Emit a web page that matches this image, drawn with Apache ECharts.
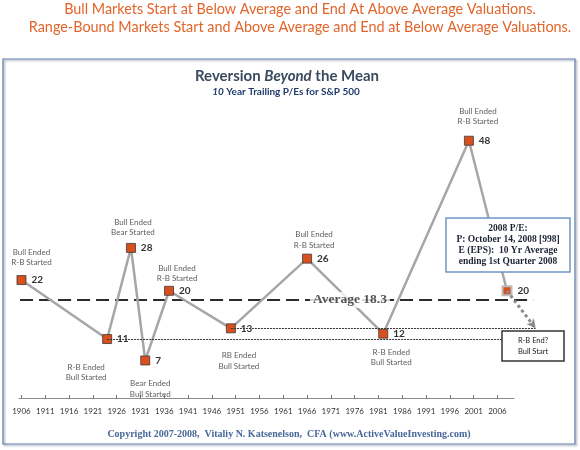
<!DOCTYPE html>
<html>
<head>
<meta charset="utf-8">
<script src="https://cdn.jsdelivr.net/npm/echarts@6/dist/echarts.min.js"></script>
<style>
html,body{margin:0;padding:0;background:#fff;}
#chart{width:580px;height:450px;}
</style>
</head>
<body>
<div id="chart"></div>
<script>
// ---- data ----
const years = [1906, 1924, 1929, 1932, 1937, 1950, 1966, 1982, 2000, 2008];
const peValues = [22, 11, 28, 7, 20, 13, 26, 12, 48, 20];
const notes = ['Bull Ended\nR-B Started', 'R-B Ended\nBull Started', 'Bull Ended\nBear Started',
  'Bear Ended\nBull Started', 'Bull Ended\nR-B Started', 'RB Ended\nBull Started',
  'Bull Ended\nR-B Started', 'R-B Ended\nBull Started', 'Bull Ended\nR-B Started', ''];
const tickLabels = ['1906','1911','1916','1921','1926','1931','1936','1941','1946','1951',
  '1956','1961','1966','1971','1976','1981','1986','1991','1996','2001','2006'];
const firstYear = 1906;
const lastYear = 2009;
const averagePE = 18.3;
const averageSpan = [1905.7, 2013.5];
const refLevels = [13, 11];          // valuation levels carried forward
const refStartYears = [1950, 1924];
const refEndYears = [2014, 2007];
const projectionFrom = [2008, 20];
const projectionTo = [2014, 13];
const headline = ['Bull Markets Start at Below Average and End At Above Average Valuations.',
  'Range-Bound Markets Start and Above Average and End at Below Average Valuations.'];
const peBoxLines = ['2008 P/E:', 'P: October 14, 2008 [998]', 'E (EPS):  10 Yr Average', 'ending 1st Quarter 2008'];
const endBoxLines = ['R-B End?', 'Bull Start'];
const copyright = 'Copyright 2007-2008,  Vitaliy N. Katsenelson,  CFA (www.ActiveValueInvesting.com)';

// ---- build ----
const categories = [];
for (let y = firstYear; y <= lastYear; y++) categories.push(String(y));
const nCat = categories.length;
const bandW = 4.76;
const gridLeft = 19.1;
const gridTop = 130;
const gridBottom = 52;
const overlayMax = 2020.5;

const noteLayout = [['top',12,10],['bottom',23,-21],['top',10,2],['bottom',18,5],['top',7,8],
  ['bottom',22,8],['top',8,7],['bottom',13,8],['top',14,9],['top',0,0]];

const isTick = function (idx, val) { return tickLabels.indexOf(val) >= 0; };

const mainData = years.map((y, i) => {
  const last = i === years.length - 1;
  return {
    value: [y - firstYear, peValues[i]],
    itemStyle: last ? {borderColor: '#bdbdbd', borderWidth: 2} : undefined
  };
});
const noteData = years.map((y, i) => ({
  value: [y - firstYear, peValues[i]],
  label: {position: noteLayout[i][0], distance: noteLayout[i][1], offset: [noteLayout[i][2], 0]}
}));

const refLines = refLevels.map((lv, i) => [
  {coord: [refStartYears[i], lv]}, {coord: [refEndYears[i], lv]}
]);

const sansSmall = 'Lato, "Noto Sans", sans-serif';

const option = {
  animation: false,
  backgroundColor: '#fff',
  grid: [
    {left: gridLeft, width: nCat * bandW, top: gridTop, bottom: gridBottom},
    {left: gridLeft, width: (overlayMax - (firstYear - 0.5)) * bandW, top: gridTop, bottom: gridBottom}
  ],
  xAxis: [
    {
      type: 'category', gridIndex: 0, data: categories, boundaryGap: true,
      axisLine: {lineStyle: {color: '#8c8c8c', width: 1}},
      axisTick: {show: true, inside: true, length: 3, alignWithLabel: true, interval: isTick,
        lineStyle: {color: '#777'}},
      axisLabel: {interval: isTick, fontSize: 8, color: '#333', margin: 9, fontFamily: sansSmall},
      splitLine: {show: false}
    },
    {
      type: 'value', gridIndex: 1, min: firstYear - 0.5, max: overlayMax, show: false,
      splitLine: {show: false}
    }
  ],
  yAxis: [
    {type: 'value', gridIndex: 0, min: 0, max: 50, show: false, splitLine: {show: false}},
    {type: 'value', gridIndex: 1, min: 0, max: 50, show: false, splitLine: {show: false}}
  ],
  series: [
    {
      name: 'Average', type: 'line', xAxisIndex: 1, yAxisIndex: 1, z: 2,
      data: [[averageSpan[0], averagePE], [averageSpan[1], averagePE]],
      symbol: 'none', silent: true,
      lineStyle: {color: '#2b2b2b', width: 2, type: [13, 6]}
    },
    {
      name: 'Refs', type: 'scatter', xAxisIndex: 1, yAxisIndex: 1, z: 2,
      data: [], silent: true,
      markLine: {
        silent: true, symbol: ['none', 'none'], animation: false,
        label: {show: false},
        lineStyle: {color: '#333', width: 1, type: [2, 1]},
        data: refLines.concat([[
          {coord: projectionFrom, symbol: 'none', lineStyle: {color: '#8a8a8a', width: 3, type: [3, 3]}},
          {coord: projectionTo, symbol: 'arrow', symbolSize: [7, 9], lineStyle: {color: '#8a8a8a', width: 3, type: [3, 3]}}
        ]])
      }
    },
    {
      name: 'P/E', type: 'line', xAxisIndex: 0, yAxisIndex: 0, z: 3,
      data: mainData, showAllSymbol: true,
      symbol: 'rect', symbolSize: 9,
      itemStyle: {color: '#D9501E', borderColor: '#3a3a3a', borderWidth: 0.8},
      lineStyle: {color: '#a6a6a6', width: 2.5},
      label: {show: true, position: 'right', distance: 5, fontSize: 10, fontWeight: 'bold',
        color: '#333', fontFamily: sansSmall,
        formatter: p => String(p.value[1])}
    },
    {
      name: 'Notes', type: 'scatter', xAxisIndex: 0, yAxisIndex: 0, z: 4,
      data: noteData, symbolSize: 0, silent: true,
      label: {show: true, fontSize: 8, lineHeight: 10.5, color: '#333', fontFamily: sansSmall,
        align: 'center', formatter: p => notes[p.dataIndex]}
    },
    {
      name: 'AvgLabel', type: 'scatter', xAxisIndex: 1, yAxisIndex: 1, z: 5,
      data: [[1975, averagePE]], symbolSize: 0, silent: true,
      label: {show: true, position: 'inside', formatter: 'Average ' + averagePE,
        fontFamily: '"Liberation Serif", "DejaVu Serif", serif', fontWeight: 'bold', fontSize: 13.5,
        color: '#2b2b2b', backgroundColor: '#fff', padding: [1, 3]}
    }
  ],
  graphic: [
    {type: 'rect', z: 0, silent: true,
      shape: {x: 3, y: 59, width: 572, height: 385},
      style: {fill: 'transparent', stroke: '#5a79a6', lineWidth: 1.2,
        shadowColor: 'rgba(40,60,100,0.45)', shadowBlur: 2, shadowOffsetX: 1.5, shadowOffsetY: 1.5}},
    {type: 'text', silent: true, style: {text: headline[0], x: 300, y: 9, textAlign: 'center', textVerticalAlign: 'middle',
      font: '14.4px Lato, "Open Sans", sans-serif', fill: '#E2652B'}},
    {type: 'text', silent: true, style: {text: headline[1], x: 300, y: 27, textAlign: 'center', textVerticalAlign: 'middle',
      font: '14.4px Lato, "Open Sans", sans-serif', fill: '#E2652B'}},
    {type: 'text', silent: true, style: {
      text: '{a|Reversion }{b|Beyond}{a| the Mean}', x: 287, y: 76, textAlign: 'center', textVerticalAlign: 'middle',
      rich: {
        a: {fontFamily: 'Lato, sans-serif', fontSize: 15, fontWeight: 'bold', fill: '#3a4a5e', color: '#3a4a5e'},
        b: {fontFamily: 'Lato, sans-serif', fontSize: 15, fontWeight: 'bold', fontStyle: 'italic', fill: '#3a4a5e', color: '#3a4a5e'}
      }}},
    {type: 'text', silent: true, style: {
      text: '{b|10}{a| Year Trailing P/Es for S&P 500}', x: 286, y: 92, textAlign: 'center', textVerticalAlign: 'middle',
      rich: {
        a: {fontFamily: 'Lato, sans-serif', fontSize: 10, fontWeight: 'bold', fill: '#1f3a6b', color: '#1f3a6b'},
        b: {fontFamily: 'Lato, sans-serif', fontSize: 10, fontWeight: 'bold', fontStyle: 'italic', fill: '#1f3a6b', color: '#1f3a6b'}
      }}},
    {type: 'rect', z: 100, silent: true, shape: {x: 446, y: 218, width: 124, height: 54},
      style: {fill: '#fff', stroke: '#7195c6', lineWidth: 1.5}},
    {type: 'text', z: 101, silent: true, style: {text: peBoxLines.join('\n'), x: 508, y: 245,
      textAlign: 'center', textVerticalAlign: 'middle', lineHeight: 11.3,
      font: 'bold 9.5px "Liberation Serif", serif', fill: '#1c2333'}},
    {type: 'rect', z: 100, silent: true, shape: {x: 502, y: 331, width: 62, height: 30},
      style: {fill: '#fff', stroke: '#333', lineWidth: 1.5}},
    {type: 'text', z: 101, silent: true, style: {text: endBoxLines.join('\n'), x: 533, y: 346,
      textAlign: 'center', textVerticalAlign: 'middle', lineHeight: 10.5,
      font: '7.5px Lato, sans-serif', fill: '#222'}},
    {type: 'text', silent: true, style: {text: copyright, x: 289, y: 434, textAlign: 'center', textVerticalAlign: 'middle',
      font: 'bold 10px "Liberation Serif", serif', fill: '#48679a'}}
  ]
};

const chart = echarts.init(document.getElementById('chart'), null, {renderer: 'canvas'});
chart.setOption(option);
</script>
</body>
</html>
